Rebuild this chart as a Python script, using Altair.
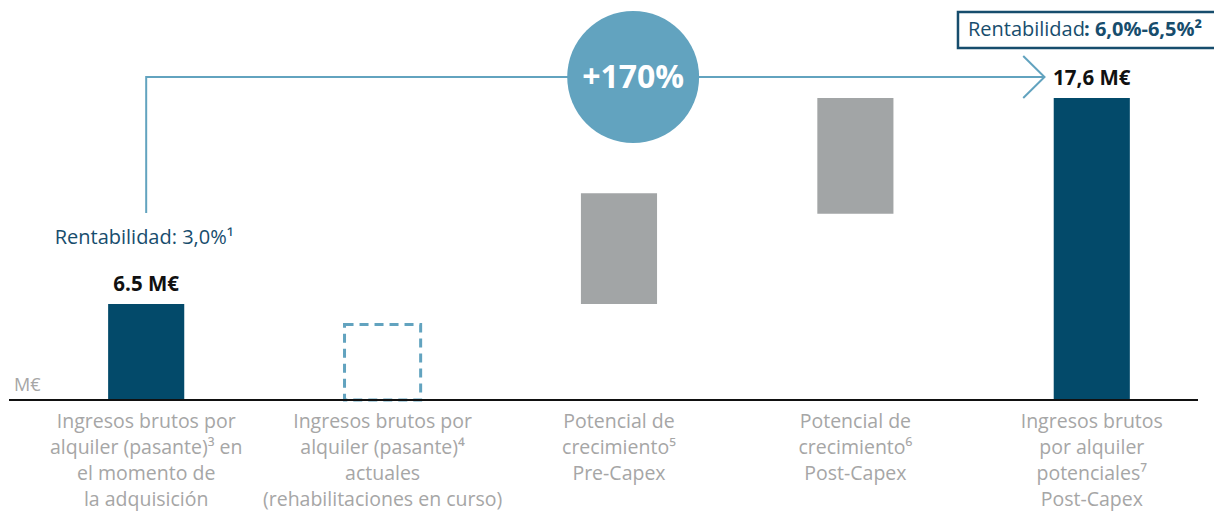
import altair as alt
import pandas as pd

# ---- data ----
categories = [
    "Ingresos brutos por\nalquiler (pasante)³ en\nel momento de\nla adquisición",
    "Ingresos brutos por\nalquiler (pasante)⁴\nactuales\n(rehabilitaciones en curso)",
    "Potencial de\ncrecimiento⁵\nPre-Capex",
    "Potencial de\ncrecimiento⁶\nPost-Capex",
    "Ingresos brutos\npor alquiler\npotenciales⁷\nPost-Capex",
]
positions = [0, 1, 2, 3, 4]
bar_start = [0.0, 0.0, 5.6, 10.85, 0.0]
bar_end = [5.6, 4.4, 12.05, 17.6, 17.6]
kinds = ["total", "pending", "growth", "growth", "total"]
value_labels = ["6.5 M€", "", "", "", "17,6 M€"]

arrow_x = [0, 0, 3.80]
arrow_y = [10.9, 18.82, 18.82]
head_x = [3.71, 3.80, 3.71]
head_y = [20.05, 18.82, 17.6]

DARK = "#034a6a"
GREY = "#a2a5a6"
LIGHT = "#62a3bf"
TEXTBLUE = "#174d6d"
LABELGREY = "#a6a6a6"

df = pd.DataFrame({"pos": positions, "lo": bar_start, "hi": bar_end, "kind": kinds,
                   "cat": categories, "vlabel": value_labels})
df["left"] = df["pos"] - 0.161
df["right"] = df["pos"] + 0.161
df["zero"] = 0.0

xs = alt.Scale(domain=[-0.6184, 4.517], nice=False, zero=False)
ys = alt.Scale(domain=[-6.70, 23.31], nice=False, zero=False)
base = alt.Chart(df)

solid = base.transform_filter("datum.kind != 'pending'").mark_rect().encode(
    x=alt.X("left:Q", scale=xs, axis=None), x2="right:Q",
    y=alt.Y("lo:Q", scale=ys, axis=None), y2="hi:Q",
    color=alt.Color("kind:N", scale=alt.Scale(domain=["total", "growth"], range=[DARK, GREY]), legend=None),
)
dashed = base.transform_filter("datum.kind == 'pending'").mark_rect(
    fill="transparent", stroke=LIGHT, strokeWidth=3, strokeDash=[9, 6]
).encode(x=alt.X("left:Q", scale=xs), x2="right:Q", y=alt.Y("lo:Q", scale=ys), y2="hi:Q")

baseline = base.transform_filter("datum.pos == 0").mark_rule(color="#111111", strokeWidth=2).encode(
    y=alt.Y("zero:Q", scale=ys), x=alt.value(9), x2=alt.value(1198)
)

cat_labels = base.mark_text(
    baseline="alphabetic", align="center", lineBreak="\n", lineHeight=26,
    font="Open Sans", fontSize=19.5, color=LABELGREY, dy=28
).encode(x=alt.X("pos:Q", scale=xs), y=alt.Y("zero:Q", scale=ys), text="cat:N")

val_labels = base.transform_filter("datum.vlabel != ''").mark_text(
    baseline="alphabetic", align="center", font="Open Sans", fontWeight="bold",
    fontSize=20.5, color="#111111", dy=-13
).encode(x=alt.X("pos:Q", scale=xs), y=alt.Y("hi:Q", scale=ys), text="vlabel:N")

arrow = alt.Chart(pd.DataFrame({"x": arrow_x, "y": arrow_y, "i": [0, 1, 2]})).mark_line(
    color=LIGHT, strokeWidth=2
).encode(x=alt.X("x:Q", scale=xs), y=alt.Y("y:Q", scale=ys), order="i:Q")

head = alt.Chart(pd.DataFrame({"x": head_x, "y": head_y, "i": [0, 1, 2]})).mark_line(
    color=LIGHT, strokeWidth=2
).encode(x=alt.X("x:Q", scale=xs), y=alt.Y("y:Q", scale=ys), order="i:Q")

circle_df = pd.DataFrame({"cx": [2.06], "cy": [18.82], "t": ["+170%"]})
circle = alt.Chart(circle_df).mark_point(
    shape="circle", filled=True, color=LIGHT, opacity=1, size=17400, strokeWidth=0
).encode(x=alt.X("cx:Q", scale=xs), y=alt.Y("cy:Q", scale=ys))
circle_text = alt.Chart(circle_df).mark_text(
    font="Open Sans", fontWeight="bold", fontSize=32, color="white", baseline="middle", align="center", dy=1
).encode(x=alt.X("cx:Q", scale=xs), y=alt.Y("cy:Q", scale=ys), text="t:N")

box = alt.Chart(pd.DataFrame({"bx": [3.434], "bx2": [4.9], "by": [22.61], "by2": [20.51]})).mark_rect(
    fill="white", stroke=TEXTBLUE, strokeWidth=2.5
).encode(x=alt.X("bx:Q", scale=xs), x2="bx2:Q", y=alt.Y("by:Q", scale=ys), y2="by2:Q")

ann_x = [3.476, 3.967, 0.0, -0.559]
ann_y = [21.21, 21.21, 9.09, 0.0]
ann_t = ["Rentabilidad", ": 6,0%-6,5%²", "Rentabilidad: 3,0%¹", "M€"]
ann_w = ["normal", "bold", "normal", "normal"]
ann_a = ["left", "left", "center", "left"]
ann_c = [TEXTBLUE, TEXTBLUE, TEXTBLUE, LABELGREY]
ann_dy = [0, 0, 0, -9]
ann_dx = [0, 0, -2, 0]
ann_fs = [20, 20, 20, 18]

ann_marks = []
for i in range(len(ann_t)):
    ann_marks.append(
        alt.Chart(pd.DataFrame({"ax": [ann_x[i]], "ay": [ann_y[i]], "t": [ann_t[i]]})).mark_text(
            font="Open Sans", fontSize=ann_fs[i], fontWeight=ann_w[i], align=ann_a[i],
            baseline="alphabetic", color=ann_c[i], dy=ann_dy[i], dx=ann_dx[i],
        ).encode(x=alt.X("ax:Q", scale=xs), y=alt.Y("ay:Q", scale=ys), text="t:N")
    )

chart = alt.layer(
    solid, dashed, baseline, cat_labels, val_labels, arrow, head,
    circle, circle_text, box, *ann_marks
).properties(
    width=1214, height=515,
    autosize=alt.AutoSizeParams(type="none"),
    padding=0,
).configure_view(strokeWidth=0)

chart.save("out.html", embed_options={"renderer": "svg", "actions": False})
